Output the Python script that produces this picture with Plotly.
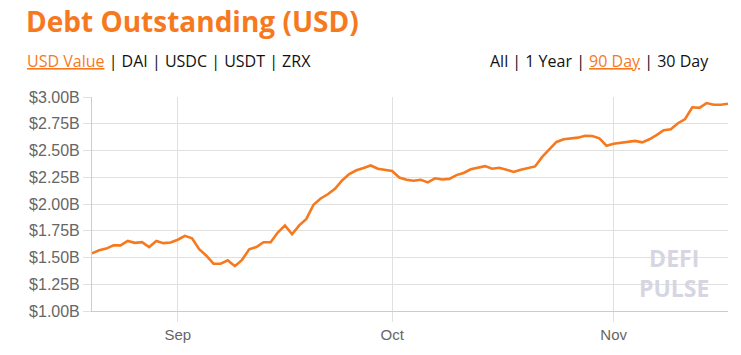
import plotly.graph_objects as go
import pandas as pd

dates = pd.date_range("2020-08-20", "2020-11-17", freq="D")
debt_usd_b = [
    1.538, 1.568, 1.583, 1.613, 1.613, 1.655, 1.637, 1.643, 1.598, 1.655, 1.634, 1.640,
    1.666, 1.702, 1.679, 1.577, 1.517, 1.442, 1.442, 1.473, 1.419, 1.478,
    1.577, 1.598, 1.643, 1.643, 1.733, 1.800, 1.717, 1.800, 1.861, 1.993,
    2.052, 2.091, 2.142, 2.220, 2.280, 2.315, 2.336, 2.360, 2.330, 2.321,
    2.309, 2.247, 2.226, 2.217, 2.226, 2.202, 2.240, 2.229, 2.235, 2.270,
    2.290, 2.324, 2.339, 2.354, 2.330, 2.339, 2.321, 2.300, 2.321, 2.336,
    2.351, 2.440, 2.510, 2.580, 2.605, 2.614, 2.620, 2.638, 2.635, 2.614,
    2.545,
    2.563, 2.570, 2.576, 2.590, 2.576, 2.605, 2.644, 2.689, 2.698, 2.755,
    2.794, 2.904, 2.898, 2.943, 2.928, 2.928, 2.937,
]
y_ticks = [1.00, 1.25, 1.50, 1.75, 2.00, 2.25, 2.50, 2.75, 3.00]
y_tick_labels = ["$%.2fB" % v for v in y_ticks]

ORANGE = "#f7791e"
W, H = 741, 355
L, R, T, B = 92, 13, 97, 35
PW, PH = W - L - R, H - T - B


def px(x):
    return (x - L) / PW


def py(y):
    return (H - B - y) / PH


fig = go.Figure()
fig.add_trace(go.Scatter(
    x=dates, y=debt_usd_b, mode="lines",
    line=dict(color=ORANGE, width=2.6),
    hoverinfo="skip",
))

fig.update_layout(
    width=W, height=H,
    margin=dict(l=L, r=R, t=T, b=B),
    paper_bgcolor="white", plot_bgcolor="white",
    showlegend=False,
    font=dict(family="Liberation Sans, Arial, sans-serif", color="#666666"),
)

fig.update_xaxes(
    range=[dates[0], dates[-1]],
    dtick="M1", tick0="2020-09-01", tickformat="%b",
    showgrid=True, gridcolor="#e0e0e0", gridwidth=1,
    ticks="outside", ticklen=10, tickcolor="#e0e0e0",
    showline=True, linecolor="#cccccc", linewidth=1,
    tickfont=dict(size=15, color="#666666"),
    zeroline=False,
)
fig.update_yaxes(
    range=[1.0, 3.0], tickmode="array", tickvals=y_ticks, ticktext=y_tick_labels,
    showgrid=True, gridcolor="#e0e0e0", gridwidth=1,
    ticks="outside", ticklen=8, tickcolor="#e0e0e0",
    showline=True, linecolor="#cccccc", linewidth=1,
    tickfont=dict(size=16, color="#666666"),
    zeroline=False,
)

ann = []
ann.append(dict(
    text="<b>Debt Outstanding (USD)</b>", xref="paper", yref="paper",
    x=px(24), y=py(18), xanchor="left", yanchor="middle", showarrow=False,
    font=dict(family="Open Sans, sans-serif", size=28, color=ORANGE),
))
sep = " <span style='color:#111'>|</span> "
ann.append(dict(
    text="<span style='color:%s'><u>USD Value</u></span>" % ORANGE + sep + "DAI" + sep + "USDC" + sep + "USDT" + sep + "ZRX",
    xref="paper", yref="paper", x=px(25), y=py(60), xanchor="left", yanchor="middle",
    showarrow=False, font=dict(family="Open Sans, sans-serif", size=16, color="#111111"),
))
ann.append(dict(
    text="All" + sep + "1 Year" + sep + "<span style='color:%s'><u>90 Day</u></span>" % ORANGE + sep + "30 Day",
    xref="paper", yref="paper", x=px(711), y=py(60), xanchor="right", yanchor="middle",
    showarrow=False, font=dict(family="Open Sans, sans-serif", size=16, color="#111111"),
))
ann.append(dict(
    text="<b>DEFI</b><br><b>PULSE</b>", xref="paper", yref="paper", x=px(674), y=py(280),
    xanchor="center", yanchor="middle", align="center", showarrow=False,
    font=dict(family="Open Sans, sans-serif", size=23, color="#d6d6e2"),
))
fig.update_layout(annotations=ann)

fig.write_html("out.html")
